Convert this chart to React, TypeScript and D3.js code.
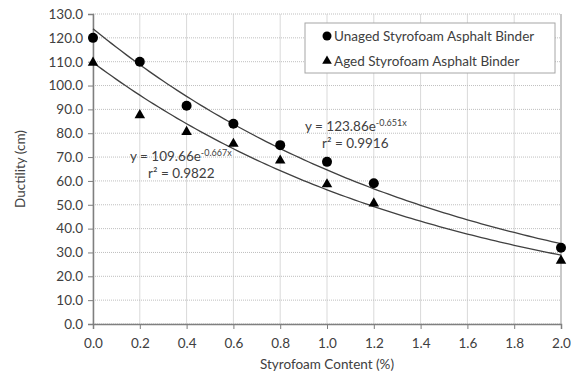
import { useEffect, useRef } from 'react'
import * as d3 from 'd3'

const xTicks = [0, 0.2, 0.4, 0.6, 0.8, 1.0, 1.2, 1.4, 1.6, 1.8, 2.0]
const yTicks = [0, 10, 20, 30, 40, 50, 60, 70, 80, 90, 100, 110, 120, 130]

const contentX = [0, 0.2, 0.4, 0.6, 0.8, 1.0, 1.2, 2.0]
const unaged = [120, 110, 91.5, 84, 75, 68, 59, 32]
const aged = [110, 88, 81, 76, 69, 59, 51, 27]

// exponential trendline coefficients shown on the chart
const unagedFit = { a: 123.86, b: -0.651 }
const agedFit = { a: 109.66, b: -0.667 }

const FONT = 'Lato, "Open Sans", sans-serif'
const FS = '13.5px'
const W = 571, H = 376

export default function App() {
  const svgRef = useRef<SVGSVGElement>(null)

  useEffect(() => {
    const svg = d3.select(svgRef.current)
    svg.selectAll('*').remove()
    svg.attr('width', W).attr('height', H)

    const x = d3.scaleLinear().domain([0, 2]).range([93, 561])
    const y = d3.scaleLinear().domain([0, 130]).range([324, 14])

    svg.append('rect').attr('width', W).attr('height', H).attr('fill', '#fff')

    // grid
    xTicks.forEach((t) => {
      svg.append('line').attr('x1', x(t)).attr('x2', x(t)).attr('y1', y(130)).attr('y2', y(0))
        .attr('stroke', '#d9d9d9').attr('stroke-width', 1)
    })
    yTicks.forEach((t) => {
      svg.append('line').attr('x1', x(0)).attr('x2', x(2)).attr('y1', y(t)).attr('y2', y(t))
        .attr('stroke', '#bfbfbf').attr('stroke-width', 1).attr('stroke-dasharray', '1,1')
    })
    // right edge
    svg.append('line').attr('x1', x(2)).attr('x2', x(2)).attr('y1', y(130)).attr('y2', y(0))
      .attr('stroke', '#a6a6a6')

    // axes
    const gx = svg.append('g').attr('transform', `translate(0,${y(0)})`)
      .call(d3.axisBottom(x).tickValues(xTicks).tickFormat(d3.format('.1f')).tickSize(5).tickPadding(8))
    const gy = svg.append('g').attr('transform', `translate(${x(0)},0)`)
      .call(d3.axisLeft(y).tickValues(yTicks).tickFormat(d3.format('.1f')).tickSize(5).tickPadding(5))
    ;[gx, gy].forEach((g) => {
      g.select('.domain').attr('stroke', '#7f7f7f').attr('stroke-width', 1.5)
      g.selectAll('.tick line').attr('stroke', '#7f7f7f')
      g.selectAll('.tick text').attr('fill', '#404040').attr('font-size', FS).attr('font-family', FONT)
    })
    gx.selectAll('.tick text').attr('dy', '0.85em')

    // trendlines
    const xs = d3.range(0, 2.0001, 0.02)
    ;[unagedFit, agedFit].forEach((f) => {
      svg.append('path')
        .attr('d', d3.line<number>().x((d) => x(d)).y((d) => y(f.a * Math.exp(f.b * d)))(xs))
        .attr('fill', 'none').attr('stroke', '#404040').attr('stroke-width', 1.3)
    })

    // markers
    const tri = d3.symbol().type(d3.symbolTriangle).size(48)
    contentX.forEach((cx, i) => {
      svg.append('circle').attr('cx', x(cx)).attr('cy', y(unaged[i])).attr('r', 5).attr('fill', '#000')
      svg.append('path').attr('d', tri()).attr('transform', `translate(${x(cx)},${y(aged[i]) + 1})`).attr('fill', '#000')
    })

    // equations
    const eq = (tx: number, ty: number, fit: { a: number; b: number }, r2: string, r2x: number) => {
      const t = svg.append('text').attr('x', tx).attr('y', ty).attr('fill', '#404040')
        .attr('font-size', FS).attr('font-family', FONT)
      t.append('tspan').text(`y = ${fit.a}e`)
      t.append('tspan').attr('dy', -5).attr('font-size', '9px').text(`${fit.b}x`)
      svg.append('text').attr('x', r2x).attr('y', ty + 17).attr('fill', '#404040')
        .attr('font-size', FS).attr('font-family', FONT).text(`r² = ${r2}`)
    }
    eq(305, 131, unagedFit, '0.9916', 322)
    eq(130, 161, agedFit, '0.9822', 148)

    // legend
    svg.append('rect').attr('x', 305).attr('y', 23).attr('width', 250).attr('height', 50)
      .attr('fill', '#fff').attr('stroke', '#a6a6a6')
    svg.append('circle').attr('cx', 327).attr('cy', 36).attr('r', 4.5).attr('fill', '#000')
    svg.append('path').attr('d', d3.symbol().type(d3.symbolTriangle).size(40)())
      .attr('transform', 'translate(327,61)').attr('fill', '#000')
    ;[['Unaged Styrofoam Asphalt Binder', 41], ['Aged Styrofoam Asphalt Binder', 66]].forEach(([t, ty]) => {
      svg.append('text').attr('x', 334).attr('y', ty as number).attr('fill', '#404040')
        .attr('font-size', FS).attr('font-family', FONT).text(t as string)
    })

    // axis titles
    svg.append('text').attr('transform', `translate(25,${y(65)}) rotate(-90)`)
      .attr('text-anchor', 'middle').attr('fill', '#404040').attr('font-size', FS)
      .attr('font-family', FONT).text('Ductility (cm)')
    svg.append('text').attr('x', (x(0) + x(2)) / 2).attr('y', 369)
      .attr('text-anchor', 'middle').attr('fill', '#404040').attr('font-size', FS)
      .attr('font-family', FONT).text('Styrofoam Content (%)')
  }, [])

  return (
    <div style={{ position: 'absolute', left: 0, top: 0 }}>
      <svg ref={svgRef} />
    </div>
  )
}
